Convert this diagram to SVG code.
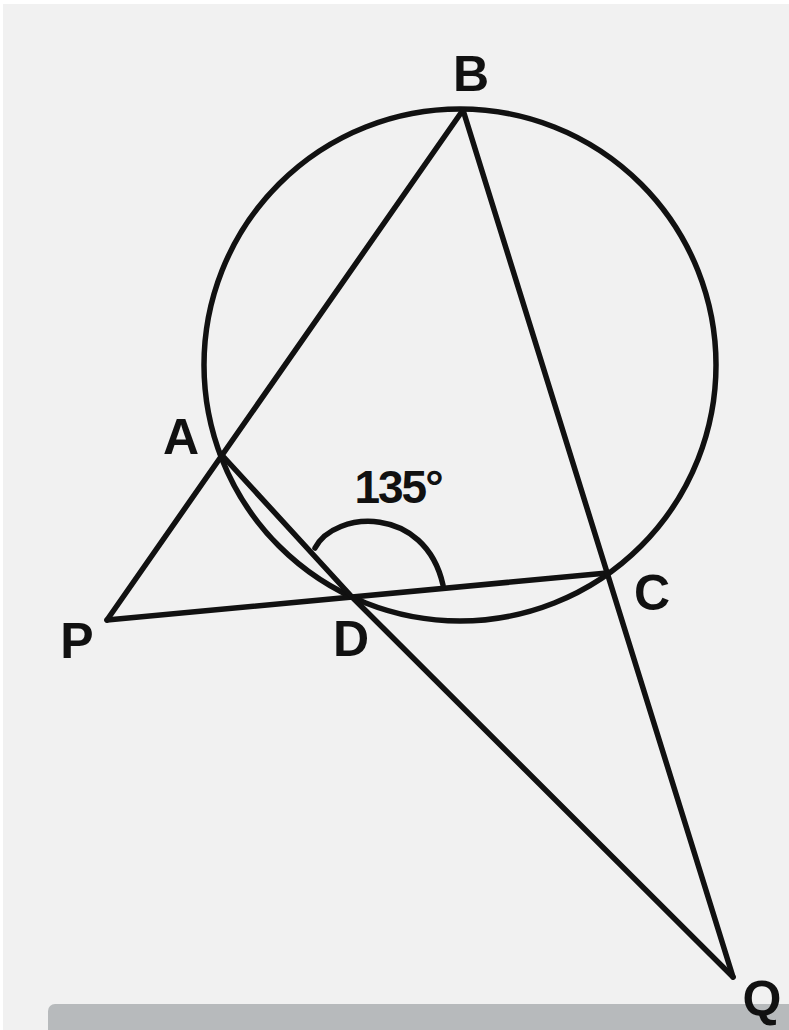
<svg xmlns="http://www.w3.org/2000/svg" width="789" height="1030" viewBox="0 0 789 1030">
<style>
.ln{stroke:#111;stroke-width:5.5;fill:none;stroke-linecap:round;stroke-linejoin:round}
.lbl{font-family:"Liberation Sans",Arial,sans-serif;font-weight:bold;font-size:50px;fill:#111;text-anchor:middle}
</style>
<rect x="0" y="0" width="789" height="1030" fill="#ffffff"/>
<rect x="3" y="4" width="786" height="1026" fill="#f1f1f1"/>
<rect x="48" y="1004" width="760" height="40" rx="7" fill="#b7babc"/>
<g id="connectors">
<circle class="ln" cx="460" cy="365" r="256"/>
<path class="ln" d="M107,620 L463,110"/>
<path class="ln" d="M107,620 L607,573"/>
<path class="ln" d="M463,110 L733,977"/>
<path class="ln" d="M220,453 L352,597 L733,977"/>
<path class="ln" d="M315,548 C335,510 425,505 443,585"/>
</g>
<g id="node-B"><text class="lbl" x="471" y="91">B</text></g>
<g id="node-A"><text class="lbl" x="181" y="454">A</text></g>
<g id="node-D"><text class="lbl" x="351" y="656">D</text></g>
<g id="node-C"><text class="lbl" x="652" y="610">C</text></g>
<g id="node-P"><text class="lbl" x="77" y="658">P</text></g>
<g id="node-Q"><text class="lbl" x="762" y="1016">Q</text></g>
<g id="angle-label"><text class="lbl" x="398" y="503" style="font-size:46px;letter-spacing:-2px">135°</text></g>
</svg>
